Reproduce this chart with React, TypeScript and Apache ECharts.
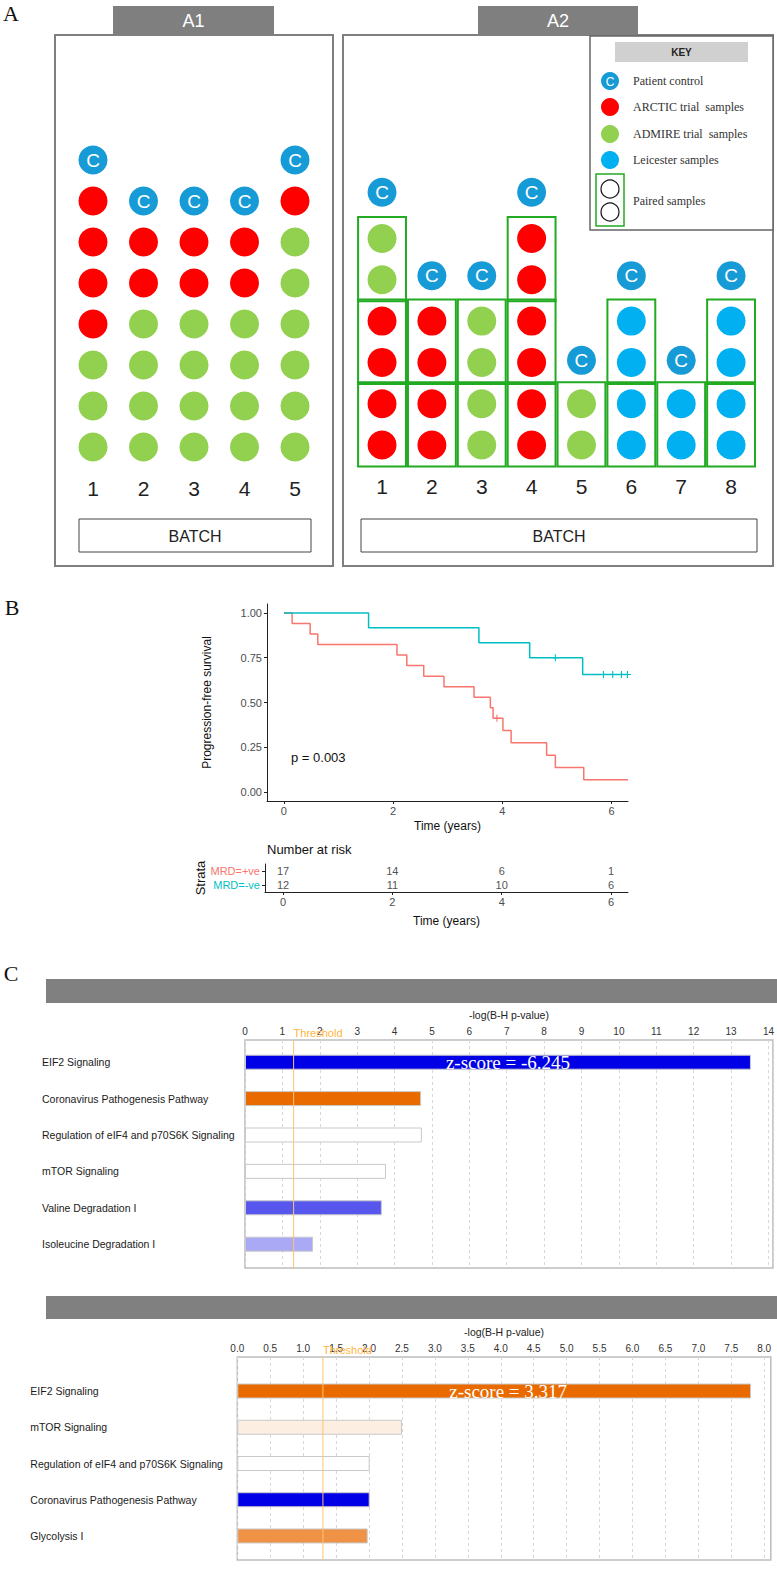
import React, { useEffect, useRef } from "react";
import * as echarts from "echarts";

// ---------------- Panel A data ----------------
const a1Batches = ["1", "2", "3", "4", "5"];
const a1Admire = [3, 4, 4, 4, 6];
const a1Arctic = [4, 2, 2, 2, 1];

const a2Batches = ["1", "2", "3", "4", "5", "6", "7", "8"];
const a2Arctic = [4, 4, 0, 6, 0, 0, 0, 0];
const a2Admire = [2, 0, 4, 0, 2, 0, 0, 0];
const a2Leicester = [0, 0, 0, 0, 0, 4, 2, 4];
const a2ControlRow = [6.12, 4.1, 4.1, 6.12, 2.05, 4.1, 2.05, 4.1];

const keyLabels = ["Patient control", "ARCTIC trial  samples", "ADMIRE trial  samples", "Leicester samples", "Paired samples"];

// ---------------- Panel B data ----------------
const posTimes = [0, 0.15, 0.48, 0.62, 2.07, 2.25, 2.56, 2.93, 3.48, 3.78, 3.83, 4.01, 4.16, 4.81, 4.97, 5.49, 6.3];
const posSurv = [1, 0.941, 0.882, 0.824, 0.765, 0.706, 0.647, 0.588, 0.529, 0.471, 0.412, 0.343, 0.275, 0.206, 0.137, 0.069, 0.069];
const posCensorTimes = [3.9];
const posCensorSurv = [0.412];
const negTimes = [0, 1.55, 3.57, 4.5, 5.47, 6.3];
const negSurv = [1, 0.917, 0.833, 0.75, 0.656, 0.656];
const negCensorTimes = [4.97, 5.85, 6.02, 6.18, 6.29];
const negCensorSurv = [0.75, 0.656, 0.656, 0.656, 0.656];
const survTicks = [0, 0.25, 0.5, 0.75, 1];
const timeTicks = [0, 2, 4, 6];
const strata = ["MRD=-ve", "MRD=+ve"];
const riskTimes = [0, 2, 4, 6];
const riskPos = [17, 14, 6, 1];
const riskNeg = [12, 11, 10, 6];
const pValueText = "p = 0.003";

// ---------------- Panel C data ----------------
const c1Pathways = ["EIF2 Signaling", "Coronavirus Pathogenesis Pathway", "Regulation of eIF4 and p70S6K Signaling", "mTOR Signaling", "Valine Degradation I", "Isoleucine Degradation I"];
const c1Values = [13.53, 4.71, 4.73, 3.77, 3.66, 1.82];
const c1ZScore = "z-score = -6.245";
const c2Pathways = ["EIF2 Signaling", "mTOR Signaling", "Regulation of eIF4 and p70S6K Signaling", "Coronavirus Pathogenesis Pathway", "Glycolysis I"];
const c2Values = [7.8, 2.5, 2.01, 2.01, 1.98];
const c2ZScore = "z-score = 3.317";
const threshold = 1.3;
const axisTitleC = "-log(B-H p-value)";

// ---------------- styles ----------------
const SANS = '"Liberation Sans", Arial, Helvetica, sans-serif';
const SERIF = '"Liberation Serif", "Times New Roman", serif';
const RED = "#ff0000";
const GREEN = "#92d050";
const LEIC = "#00b0f0";
const CTRL = "#169bd7";
const PAIR = "#22aa22";
const C1_COLORS = ["#0000e6", "#e96b00", "#ffffff", "#ffffff", "#5757ee", "#a9a9f5"];
const C2_COLORS = ["#e96b00", "#fdeee2", "#ffffff", "#0000e6", "#ef9246"];
const POS_COL = "#F8766D";
const NEG_COL = "#00BFC4";
const PLUS = "path://M4.2,0H5.8V4.2H10V5.8H5.8V10H4.2V5.8H0V4.2H4.2Z";

function buildOption(): any {
  // Panel A1 points
  const a1Green: number[][] = [], a1Red: number[][] = [], a1Ctrl: number[][] = [];
  a1Batches.forEach((_, i) => {
    for (let r = 0; r < a1Admire[i]; r++) a1Green.push([i, r]);
    for (let r = 0; r < a1Arctic[i]; r++) a1Red.push([i, a1Admire[i] + r]);
    a1Ctrl.push([i, a1Admire[i] + a1Arctic[i]]);
  });
  // Panel A2 points
  const a2Red: number[][] = [], a2Green: number[][] = [], a2Blue: number[][] = [], a2Ctrl: number[][] = [], a2Pairs: number[][] = [];
  a2Batches.forEach((_, i) => {
    let r = 0;
    for (let k = 0; k < a2Arctic[i]; k++) a2Red.push([i, r++]);
    for (let k = 0; k < a2Admire[i]; k++) a2Green.push([i, r++]);
    for (let k = 0; k < a2Leicester[i]; k++) a2Blue.push([i, r++]);
    a2Ctrl.push([i, a2ControlRow[i]]);
    for (let p = 0; p < r; p += 2) a2Pairs.push([i, p, p + 1]);
  });

  const dot = (x: number, y: number, data: number[][], color: string, extra: any = {}) => ({
    type: "scatter", xAxisIndex: x, yAxisIndex: y, data, symbolSize: 29, silent: true,
    itemStyle: { color, opacity: 1 }, ...extra,
  });
  const ctrlLabel = { label: { show: true, position: "inside", formatter: "C", color: "#fff", fontSize: 19, fontFamily: SANS } };

  const hiddenX = (gridIndex: number, cats: string[]) => ({
    type: "category", gridIndex, data: cats, boundaryGap: true,
    axisLine: { show: false }, axisTick: { show: false }, splitLine: { show: false },
    axisLabel: { fontSize: 21, color: "#222", margin: 10, fontFamily: SANS },
  });
  const hiddenY = (gridIndex: number, min: number, max: number) => ({ type: "value", gridIndex, min, max, show: false, splitLine: { show: false } });

  const textEl = (text: string, x: number, y: number, font: string, fill = "#222", align = "center", z = 10) => ({
    type: "text", x, y, z, silent: true,
    style: { text, font, fill, textAlign: align, textVerticalAlign: "middle", align, verticalAlign: "middle" },
  });
  const rectEl = (x: number, y: number, w: number, h: number, style: any, z = 1) => ({
    type: "rect", shape: { x, y, width: w, height: h }, style, z, silent: true,
  });

  const keyY = [81, 107, 134, 160];
  const keyColors = [CTRL, RED, GREEN, LEIC];

  const graphic: any[] = [
    textEl("A", 11, 13, `22px ${SERIF}`, "#111"),
    textEl("B", 12, 607, `22px ${SERIF}`, "#111"),
    textEl("C", 11, 973, `22px ${SERIF}`, "#111"),
    // A1 panel
    rectEl(55, 35, 278, 531, { fill: "none", stroke: "#7f7f7f", lineWidth: 2 }),
    rectEl(113, 6, 161, 29, { fill: "#7f7f7f" }),
    textEl("A1", 193.5, 21, `18px ${SANS}`, "#fff"),
    rectEl(79, 519, 232, 33, { fill: "none", stroke: "#444", lineWidth: 1 }),
    textEl("BATCH", 195, 536, `16px ${SANS}`, "#222"),
    // A2 panel
    rectEl(343, 35, 430, 531, { fill: "none", stroke: "#7f7f7f", lineWidth: 2 }),
    rectEl(478, 6, 160, 29, { fill: "#7f7f7f" }),
    textEl("A2", 558, 21, `18px ${SANS}`, "#fff"),
    rectEl(361, 519, 396, 33, { fill: "none", stroke: "#444", lineWidth: 1 }),
    textEl("BATCH", 559, 536, `16px ${SANS}`, "#222"),
    // key
    rectEl(590, 36, 183, 194, { fill: "#fff", stroke: "#666", lineWidth: 1.5 }, 20),
    rectEl(615, 42, 133, 20, { fill: "#d0d0d0" }, 21),
    textEl("KEY", 681.5, 52, `bold 10px ${SANS}`, "#222", "center", 22),
    ...keyY.map((y, i) => ({ type: "circle", shape: { cx: 610, cy: y, r: 9 }, style: { fill: keyColors[i] }, z: 21, silent: true })),
    textEl("C", 610, 81.5, `12px ${SANS}`, "#fff", "center", 22),
    ...keyLabels.slice(0, 4).map((t, i) => textEl(t, 633, keyY[i], `12px ${SERIF}`, "#333", "left", 22)),
    rectEl(596, 174, 28, 52, { fill: "none", stroke: PAIR, lineWidth: 1.5 }, 21),
    { type: "circle", shape: { cx: 610, cy: 189, r: 9 }, style: { fill: "none", stroke: "#111", lineWidth: 1.2 }, z: 22, silent: true },
    { type: "circle", shape: { cx: 610, cy: 212, r: 9 }, style: { fill: "none", stroke: "#111", lineWidth: 1.2 }, z: 22, silent: true },
    textEl(keyLabels[4], 633, 201, `12px ${SERIF}`, "#333", "left", 22),
    // B texts
    textEl(pValueText, 291, 757, `13px ${SANS}`, "#111", "left"),
    textEl("Number at risk", 267, 849, `13px ${SANS}`, "#111", "left"),
    // C header bars
    rectEl(46, 979, 731, 24, { fill: "#808080" }),
    rectEl(46, 1296, 731, 23, { fill: "#808080" }),
  ];

  const survX = (gridIndex: number, min: number, max: number, nameGap: number) => ({
    type: "value", gridIndex, min, max,
    axisLine: { show: true, onZero: false, lineStyle: { color: "#222", width: 1 } },
    axisTick: { show: true, length: 3, customValues: timeTicks, lineStyle: { color: "#222" } },
    axisLabel: { customValues: timeTicks, fontSize: 11, color: "#4d4d4d", margin: 4, fontFamily: SANS },
    splitLine: { show: false },
    name: "Time (years)", nameLocation: "middle", nameGap,
    nameTextStyle: { fontSize: 12, color: "#111", fontFamily: SANS },
  });

  const boxX = (gridIndex: number, max: number, interval: number, fmt: (v: number) => string) => ({
    type: "value", gridIndex, position: "top", min: 0, max, interval,
    axisLine: { show: false }, axisTick: { show: false },
    axisLabel: { fontSize: 10, color: "#333", margin: 4, fontFamily: SANS, formatter: fmt },
    splitLine: { show: true, lineStyle: { type: [3, 3], color: "#d8d8d8", width: 1 } },
    name: axisTitleC, nameLocation: "middle", nameGap: 20,
    nameTextStyle: { fontSize: 10.5, color: "#222", fontFamily: SANS },
  });
  const barX = (gridIndex: number, max: number) => ({ type: "value", gridIndex, min: 0, max, show: false, splitLine: { show: false } });
  const barY = (gridIndex: number, cats: string[], margin: number) => ({
    type: "category", gridIndex, data: cats, inverse: true,
    axisLine: { show: false }, axisTick: { show: false }, splitLine: { show: false },
    axisLabel: { align: "left", margin, fontSize: 10.5, color: "#1a1a1a", fontFamily: SANS, interval: 0 },
  });

  const barSeries = (x: number, values: number[], colors: string[], zText: string, offset: number) => ({
    type: "bar", xAxisIndex: x, yAxisIndex: x, barWidth: 15, silent: true,
    itemStyle: { borderColor: "#c9c9c9", borderWidth: 1 },
    data: values.map((v, i) => ({
      value: v, itemStyle: { color: colors[i] },
      label: i === 0 ? { show: true, position: "inside", formatter: zText, color: "#fff", fontSize: 19, fontFamily: SERIF, offset: [offset, 0] } : { show: false },
    })),
  });
  const thresholdSeries = (x: number) => ({
    type: "line", xAxisIndex: x, yAxisIndex: x, z: 5, silent: true,
    symbolSize: 0, showSymbol: true, lineStyle: { color: "#ffc46e", width: 1 }, itemStyle: { color: "#ffc46e" },
    data: [
      [threshold, 0],
      { value: [threshold, 1], label: { show: true, position: "right", distance: 0, offset: [0, -7], formatter: "Threshold", color: "#ffb443", fontSize: 11, fontFamily: SANS } },
    ],
  });

  return {
    animation: false,
    textStyle: { fontFamily: SANS },
    graphic,
    grid: [
      { left: 67.75, top: 139.5, width: 252.5, height: 328 },
      { left: 357.1, top: 135.25, width: 398.9, height: 330.4 },
      { left: 267, top: 604, width: 361, height: 197 },
      { left: 265, top: 864, width: 363, height: 28 },
      { left: 245, top: 1040, width: 528, height: 228, show: true, borderColor: "#bdbdbd", borderWidth: 1.5, backgroundColor: "transparent" },
      { left: 245, top: 1044, width: 528, height: 218.4 },
      { left: 237.3, top: 1357, width: 533.5, height: 203, show: true, borderColor: "#bdbdbd", borderWidth: 1.5, backgroundColor: "transparent" },
      { left: 237.3, top: 1372.9, width: 533.5, height: 181.2 },
    ],
    xAxis: [
      hiddenX(0, a1Batches),
      hiddenX(1, a2Batches),
      survX(2, -0.31, 6.3, 19),
      survX(3, -0.33, 6.31, 23),
      boxX(4, 14.12, 1, (v: number) => (Math.abs(v - Math.round(v)) < 1e-6 ? String(Math.round(v)) : "")),
      barX(5, 14.12),
      boxX(6, 8.1, 0.5, (v: number) => (Math.abs(v * 2 - Math.round(v * 2)) < 1e-6 ? v.toFixed(1) : "")),
      barX(7, 8.1),
    ],
    yAxis: [
      hiddenY(0, -0.5, 7.5),
      hiddenY(1, -0.5, 7.5),
      {
        type: "value", gridIndex: 2, min: -0.05, max: 1.05,
        axisLine: { show: true, onZero: false, lineStyle: { color: "#222", width: 1 } },
        axisTick: { show: true, length: 3, customValues: survTicks, lineStyle: { color: "#222" } },
        axisLabel: { customValues: survTicks, formatter: (v: number) => v.toFixed(2), fontSize: 11, color: "#4d4d4d", margin: 5, fontFamily: SANS },
        splitLine: { show: false },
        name: "Progression-free survival", nameLocation: "middle", nameGap: 54, nameRotate: 90,
        nameTextStyle: { fontSize: 12, color: "#111", fontFamily: SANS },
      },
      {
        type: "category", gridIndex: 3, data: strata,
        axisLine: { show: true, onZero: false, lineStyle: { color: "#222", width: 1 } },
        axisTick: { show: true, length: 3, alignWithLabel: true, interval: 0, lineStyle: { color: "#222" } },
        axisLabel: { fontSize: 11, margin: 5, interval: 0, fontFamily: SANS, color: (v: string) => (v === "MRD=+ve" ? POS_COL : NEG_COL) },
        name: "Strata", nameLocation: "middle", nameGap: 51, nameRotate: 90,
        nameTextStyle: { fontSize: 13, color: "#111", fontFamily: SANS },
      },
      hiddenY(4, 0, 1),
      barY(5, c1Pathways, 203),
      hiddenY(6, 0, 1),
      barY(7, c2Pathways, 207),
    ],
    series: [
      // A1
      dot(0, 0, a1Green, GREEN),
      dot(0, 0, a1Red, RED),
      dot(0, 0, a1Ctrl, CTRL, ctrlLabel),
      // A2
      dot(1, 1, a2Red, RED),
      dot(1, 1, a2Green, GREEN),
      dot(1, 1, a2Blue, LEIC),
      dot(1, 1, a2Ctrl, CTRL, ctrlLabel),
      {
        type: "custom", xAxisIndex: 1, yAxisIndex: 1, silent: true, data: a2Pairs,
        renderItem: (params: any, api: any) => {
          const col = api.value(0), r0 = api.value(1), r1 = api.value(2);
          const c = api.coord([col, (r0 + r1) / 2]);
          const s = api.size([1, 1]);
          const w = s[0] * 0.96, h = (r1 - r0 + 1) * s[1] * 1.02;
          return { type: "rect", shape: { x: c[0] - w / 2, y: c[1] - h / 2, width: w, height: h }, style: { fill: "none", stroke: PAIR, lineWidth: 2 } };
        },
      },
      // B survival
      {
        type: "line", xAxisIndex: 2, yAxisIndex: 2, step: "end", showSymbol: false, silent: true,
        lineStyle: { color: POS_COL, width: 1.5 }, itemStyle: { color: POS_COL },
        data: posTimes.map((t, i) => [t, posSurv[i]]),
      },
      {
        type: "line", xAxisIndex: 2, yAxisIndex: 2, step: "end", showSymbol: false, silent: true,
        lineStyle: { color: NEG_COL, width: 1.5 }, itemStyle: { color: NEG_COL },
        data: negTimes.map((t, i) => [t, negSurv[i]]),
      },
      {
        type: "scatter", xAxisIndex: 2, yAxisIndex: 2, symbol: PLUS, symbolSize: 7, silent: true,
        itemStyle: { color: POS_COL, opacity: 1 }, data: posCensorTimes.map((t, i) => [t, posCensorSurv[i]]),
      },
      {
        type: "scatter", xAxisIndex: 2, yAxisIndex: 2, symbol: PLUS, symbolSize: 7, silent: true,
        itemStyle: { color: NEG_COL, opacity: 1 }, data: negCensorTimes.map((t, i) => [t, negCensorSurv[i]]),
      },
      // B risk table
      {
        type: "scatter", xAxisIndex: 3, yAxisIndex: 3, symbolSize: 1, silent: true,
        itemStyle: { color: "transparent" },
        label: { show: true, position: "inside", formatter: (p: any) => String(p.value[2]), color: "#222", fontSize: 11, fontFamily: SANS },
        data: [
          ...riskTimes.map((t, i) => [t, 1, riskPos[i]]),
          ...riskTimes.map((t, i) => [t, 0, riskNeg[i]]),
        ],
      },
      // C top
      barSeries(5, c1Values, C1_COLORS, c1ZScore, 10),
      thresholdSeries(4),
      // C bottom
      barSeries(7, c2Values, C2_COLORS, c2ZScore, 14),
      thresholdSeries(6),
    ],
  };
}

export default function App() {
  const ref = useRef<HTMLDivElement>(null);
  useEffect(() => {
    document.body.style.margin = "0";
    const chart = echarts.init(ref.current!, null, { renderer: "svg" });
    chart.setOption(buildOption());
    return () => chart.dispose();
  }, []);
  return <div ref={ref} style={{ width: 777, height: 1574, position: "absolute", left: 0, top: 0, background: "#fff" }} />;
}
